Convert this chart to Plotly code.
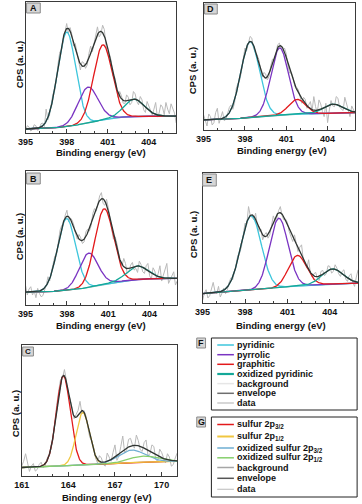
import numpy as np
import plotly.graph_objects as go

FIG_W, FIG_H = 362, 504
FONT = "Arial, 'Liberation Sans', sans-serif"

# ---------------- N 1s data (panels A, B, D, E) ----------------
N_DATA_X = np.arange(395, 406.001, 0.125)    # binding energies of data points
N_BG_X = np.arange(395, 406.001, 1.0)        # binding energies of background points
N_NAMES = ["pyridinic", "pyrrolic", "graphitic", "oxidized pyridinic"]

# peak parameters: centre (eV), height, FWHM (eV)
A_centers = [398.0, 399.56, 400.64, 402.92]
A_heights = [285, 108, 226, 52]
A_fwhm = [1.55, 1.7, 1.6, 1.75]
A_bg = [12, 13, 15, 19, 26, 34, 43, 48, 50, 50.5, 51, 51]
A_data = [8, 22, 18, 6, 10, 25, 22, 8, 12, 28,
          30, 20, 72, 40, 55, 95, 118, 128, 160, 210,
          245, 250, 280, 312, 330, 300, 318, 298, 262, 270,
          242, 210, 190, 215, 212, 195, 205, 240, 262, 245,
          268, 300, 320, 290, 298, 325, 312, 262, 240, 238,
          218, 172, 170, 145, 108, 125, 112, 90, 88, 115,
          108, 85, 92, 125, 118, 95, 85, 110, 100, 70,
          62, 95, 82, 68, 55, 72, 92, 48, 60, 85,
          78, 55, 92, 72, 58, 88, 70, 60, 30]

B_centers = [397.97, 399.58, 400.7, 403.12]
B_heights = [216, 103, 227, 40]
B_fwhm = [1.55, 1.6, 1.6, 1.8]
B_bg = [39, 39.5, 41, 44, 49, 56, 65, 72, 77, 79, 80, 80]
B_data = [58, 30, 48, 55, 30, 42, 22, 50, 35, 25,
          28, 45, 60, 85, 72, 100, 125, 148, 152, 195,
          225, 240, 242, 270, 285, 250, 262, 255, 240, 215,
          198, 212, 202, 185, 190, 220, 228, 222, 238, 275,
          290, 282, 310, 328, 338, 305, 300, 318, 292, 255,
          228, 198, 205, 185, 160, 128, 118, 140, 125, 95,
          102, 120, 128, 105, 110, 98, 132, 122, 100, 95,
          118, 125, 88, 78, 112, 102, 80, 95, 118, 72,
          90, 110, 125, 65, 78, 92, 100, 60, 72]

D_centers = [398.38, 400.52, 401.79, 404.4]
D_heights = [227, 201, 44, 27]
D_fwhm = [1.6, 1.5, 1.45, 1.65]
D_bg = [30, 31, 33, 36, 40, 43, 46, 48, 49, 50, 51, 52]
D_data = [45, 25, 12, 48, 40, 15, 22, 52, 65, 20,
          38, 55, 28, 32, 50, 68, 75, 62, 82, 125,
          140, 150, 175, 218, 245, 238, 262, 280, 275, 245,
          232, 225, 212, 178, 158, 172, 168, 150, 160, 192,
          212, 210, 228, 255, 260, 242, 238, 245, 228, 192,
          170, 172, 155, 130, 128, 120, 95, 80, 98, 92,
          65, 75, 85, 58, 100, 70, 52, 90, 78, 55,
          40, 80, 22, 60, 88, 72, 70, 100, 95, 68,
          62, 58, 98, 80, 55, 40, 72, 62, 50]

E_centers = [398.43, 400.39, 401.71, 404.19]
E_heights = [224, 209, 92, 45]
E_fwhm = [1.7, 1.55, 1.5, 1.75]
E_bg = [28, 31, 34, 37, 40, 44, 49, 52, 55, 57, 59, 60]
E_data = [8, 30, 40, 15, 22, 45, 62, 35, 28, 50,
          18, 30, 45, 28, 40, 62, 75, 70, 90, 118,
          145, 150, 170, 210, 240, 235, 290, 262, 258, 250,
          270, 232, 215, 222, 190, 205, 212, 195, 205, 232,
          262, 248, 255, 278, 290, 262, 250, 252, 242, 215,
          200, 185, 205, 180, 155, 168, 175, 130, 120, 105,
          130, 90, 78, 88, 92, 72, 68, 95, 98, 82,
          88, 112, 110, 90, 95, 115, 105, 88, 80, 95,
          100, 72, 65, 82, 88, 62, 50, 78, 100]

# ---------------- S 2p data (panel C) ----------------
S_DATA_X = np.arange(161, 171.001, 0.125)
S_BG_X = np.arange(161, 171.001, 1.0)
S_NAMES = ["sulfur 2p3/2", "sulfur 2p1/2", "oxidized sulfur 2p3/2", "oxidized sulfur 2p1/2"]
C_centers = [163.68, 164.93, 168.07, 168.8]
C_heights = [274, 160, 38, 18]
C_fwhm = [1.05, 1.0, 2.0, 2.2]
C_bg = [26, 28, 30, 32, 34, 36, 38, 41, 43, 44.5, 45]
C_data = [30, 45, 68, 35, 14, 30, 38, 15, 20, 35,
          42, 25, 30, 52, 68, 80, 110, 170, 215, 258,
          295, 300, 325, 292, 250, 232, 205, 175, 188, 200,
          228, 190, 200, 185, 150, 118, 108, 88, 55, 40,
          62, 55, 35, 30, 70, 58, 45, 72, 95, 48,
          60, 90, 122, 70, 80, 112, 115, 95, 85, 125,
          108, 80, 75, 102, 110, 62, 68, 95, 90, 50,
          45, 82, 72, 55, 40, 68, 58, 30, 35, 55,
          70]

N_TICKS = [395, 398, 401, 404]
S_TICKS = [161, 164, 167, 170]

# ---------------- styles ----------------
N_COLORS = ["#3ec6dc", "#7a34c2", "#e3191b", "#14a898"]
N_BG_COLOR = "#9fbdb6"
S_COLORS = ["#e3191b", "#f0c640", "#6eaed2", "#86cf6c"]
S_BG_COLOR = "#a6a6a6"
ENV_COLOR = "#2f3532"
DATA_COLOR = "#b9b9b9"
FRAME_COLOR = "#3a3a3a"

panels = [
    dict(letter="A", box=(18, 2, 172, 133), xr=(395, 406), ymax=395,
         cen=A_centers, hei=A_heights, fw=A_fwhm, bg=A_bg, data=A_data,
         dx=N_DATA_X, bx=N_BG_X, colors=N_COLORS, bgc=N_BG_COLOR, ticks=N_TICKS,
         lab=(19, 3, 33, 13), ytx=11.5, yty=64, xtx=95, xty=152),
    dict(letter="D", box=(200, 3, 355, 130), xr=(395, 406), ymax=380,
         cen=D_centers, hei=D_heights, fw=D_fwhm, bg=D_bg, data=D_data,
         dx=N_DATA_X, bx=N_BG_X, colors=N_COLORS, bgc=N_BG_COLOR, ticks=N_TICKS,
         lab=(201, 4, 214, 14), ytx=189.5, yty=70, xtx=280, xty=150),
    dict(letter="B", box=(18, 171, 173, 305), xr=(395, 406), ymax=403,
         cen=B_centers, hei=B_heights, fw=B_fwhm, bg=B_bg, data=B_data,
         dx=N_DATA_X, bx=N_BG_X, colors=N_COLORS, bgc=N_BG_COLOR, ticks=N_TICKS,
         lab=(19, 173, 33, 184), ytx=11.5, yty=236, xtx=95, xty=325),
    dict(letter="E", box=(199, 173, 358, 303), xr=(395, 406), ymax=391,
         cen=E_centers, hei=E_heights, fw=E_fwhm, bg=E_bg, data=E_data,
         dx=N_DATA_X, bx=N_BG_X, colors=N_COLORS, bgc=N_BG_COLOR, ticks=N_TICKS,
         lab=(199, 174, 213, 186), ytx=189.5, yty=234, xtx=279, xty=325),
    dict(letter="C", box=(14, 345, 173, 476), xr=(161, 171), ymax=400,
         cen=C_centers, hei=C_heights, fw=C_fwhm, bg=C_bg, data=C_data,
         dx=S_DATA_X, bx=S_BG_X, colors=S_COLORS, bgc=S_BG_COLOR, ticks=S_TICKS,
         lab=(15, 347, 26, 356), ytx=7.5, yty=413, xtx=101, xty=497),
]


def px(x):
    return x / FIG_W


def py(y):
    return 1 - y / FIG_H


def gauss(x, c, h, w):
    return h * np.exp(-4 * np.log(2) * (x - c) ** 2 / w ** 2)


fig = go.Figure()
shapes, annotations = [], []
layout = {}

for i, p in enumerate(panels):
    n = i + 1
    sfx = "" if n == 1 else str(n)
    xa, ya = "x" + sfx, "y" + sfx
    xg = np.linspace(p["xr"][0], p["xr"][1], 400)
    bg = np.interp(xg, p["bx"], p["bg"])
    comps = [bg + gauss(xg, c, h, w) for c, h, w in zip(p["cen"], p["hei"], p["fw"])]
    env = bg + sum(c - bg for c in comps)

    fig.add_trace(go.Scatter(x=p["dx"], y=p["data"], mode="lines", xaxis=xa, yaxis=ya,
                             line=dict(color=DATA_COLOR, width=1), showlegend=False))
    fig.add_trace(go.Scatter(x=xg, y=bg, mode="lines", xaxis=xa, yaxis=ya,
                             line=dict(color=p["bgc"], width=1.2), showlegend=False))
    for comp, col in zip(comps, p["colors"]):
        fig.add_trace(go.Scatter(x=xg, y=comp, mode="lines", xaxis=xa, yaxis=ya,
                                 line=dict(color=col, width=1.3), showlegend=False))
    fig.add_trace(go.Scatter(x=xg, y=env, mode="lines", xaxis=xa, yaxis=ya,
                             line=dict(color=ENV_COLOR, width=1.3), showlegend=False))

    x0, y0, x1, y1 = p["box"]
    layout["xaxis" + sfx] = dict(
        domain=[px(x0), px(x1)], anchor=ya, range=list(p["xr"]),
        tickvals=p["ticks"], ticks="inside", ticklen=4, tickcolor=FRAME_COLOR,
        minor=dict(dtick=1, ticks="inside", ticklen=2, tickcolor=FRAME_COLOR),
        showline=True, mirror=True, linecolor=FRAME_COLOR, linewidth=1,
        showgrid=False, zeroline=False,
        tickfont=dict(family=FONT, size=9, color="#111", weight="bold"))
    layout["yaxis" + sfx] = dict(
        domain=[py(y1), py(y0)], anchor=xa, range=[0, p["ymax"]],
        showticklabels=False, ticks="", showline=True, mirror=True,
        linecolor=FRAME_COLOR, linewidth=1, showgrid=False, zeroline=False)

    lx0, ly0, lx1, ly1 = p["lab"]
    shapes.append(dict(type="rect", xref="paper", yref="paper",
                       x0=px(lx0), x1=px(lx1), y0=py(ly1), y1=py(ly0),
                       fillcolor="#d6d6d6", line=dict(color="#8a8a8a", width=1)))
    annotations.append(dict(text="<b>%s</b>" % p["letter"], xref="paper", yref="paper",
                            x=px((lx0 + lx1) / 2), y=py((ly0 + ly1) / 2),
                            showarrow=False, xanchor="center", yanchor="middle",
                            font=dict(family=FONT, size=8 if p["letter"] == "C" else 9, color="#111")))
    annotations.append(dict(text="<b>Binding energy (eV)</b>", xref="paper", yref="paper",
                            x=px(p["xtx"]), y=py(p["xty"]), showarrow=False,
                            xanchor="center", yanchor="middle",
                            font=dict(family=FONT, size=9.5, color="#111")))
    annotations.append(dict(text="<b>CPS (a. u.)</b>", xref="paper", yref="paper",
                            x=px(p["ytx"]), y=py(p["yty"]), showarrow=False, textangle=-90,
                            xanchor="center", yanchor="middle",
                            font=dict(family=FONT, size=9.5, color="#111")))

# ---------------- legends F and G ----------------
F_labels = ["pyridinic", "pyrrolic", "graphitic", "oxidized pyridinic",
            "background", "envelope", "data"]
F_colors = N_COLORS + ["#e6e6e6", "#6e6e6e", "#bdbdbd"]
F_widths = [1.5, 1.5, 1.5, 2.2, 1.5, 1.5, 1.2]
F_rows = [345, 354.7, 364.3, 374, 383.6, 393.3, 403]

G_labels = ["sulfur 2p<sub>3/2</sub>", "sulfur 2p<sub>1/2</sub>",
            "oxidized sulfur 2p<sub>3/2</sub>", "oxidized sulfur 2p<sub>1/2</sub>",
            "background", "envelope", "data"]
G_colors = S_COLORS + ["#a6a6a6", "#555555", "#c6c6c6"]
G_widths = [1.5, 2.0, 1.5, 1.5, 1.5, 1.5, 1.2]
G_rows = [424.5, 436.5, 448, 457.8, 467.5, 478.3, 489.3]

for (bx0, by0, bx1, by1, letter, lab, labels, colors, widths, rows) in [
        (208, 338, 357, 410, "F", (193, 338, 202, 348), F_labels, F_colors, F_widths, F_rows),
        (208, 417, 357, 497, "G", (193, 417, 202, 427), G_labels, G_colors, G_widths, G_rows)]:
    shapes.append(dict(type="rect", xref="paper", yref="paper",
                       x0=px(bx0), x1=px(bx1), y0=py(by1), y1=py(by0),
                       fillcolor="white", line=dict(color="#222", width=1)))
    lx0, ly0, lx1, ly1 = lab
    shapes.append(dict(type="rect", xref="paper", yref="paper",
                       x0=px(lx0), x1=px(lx1), y0=py(ly1), y1=py(ly0),
                       fillcolor="#d6d6d6", line=dict(color="#8a8a8a", width=1)))
    annotations.append(dict(text="<b>%s</b>" % letter, xref="paper", yref="paper",
                            x=px((lx0 + lx1) / 2), y=py((ly0 + ly1) / 2),
                            showarrow=False, xanchor="center", yanchor="middle",
                            font=dict(family=FONT, size=9, color="#111")))
    for text, col, wd, ry in zip(labels, colors, widths, rows):
        shapes.append(dict(type="line", xref="paper", yref="paper",
                           x0=px(214), x1=px(231), y0=py(ry), y1=py(ry),
                           line=dict(color=col, width=wd)))
        annotations.append(dict(text="<b>%s</b>" % text, xref="paper", yref="paper",
                                x=px(232), y=py(ry), showarrow=False,
                                xanchor="left", yanchor="middle",
                                font=dict(family=FONT, size=9, color="#111")))

fig.update_layout(
    width=FIG_W, height=FIG_H, margin=dict(l=0, r=0, t=0, b=0),
    paper_bgcolor="white", plot_bgcolor="white", showlegend=False,
    hovermode=False,
    shapes=shapes, annotations=annotations, **layout)

fig.write_html("out.html", config={"displayModeBar": False, "staticPlot": True},
               post_script="document.body.style.margin='0';document.body.style.overflow='hidden';")
